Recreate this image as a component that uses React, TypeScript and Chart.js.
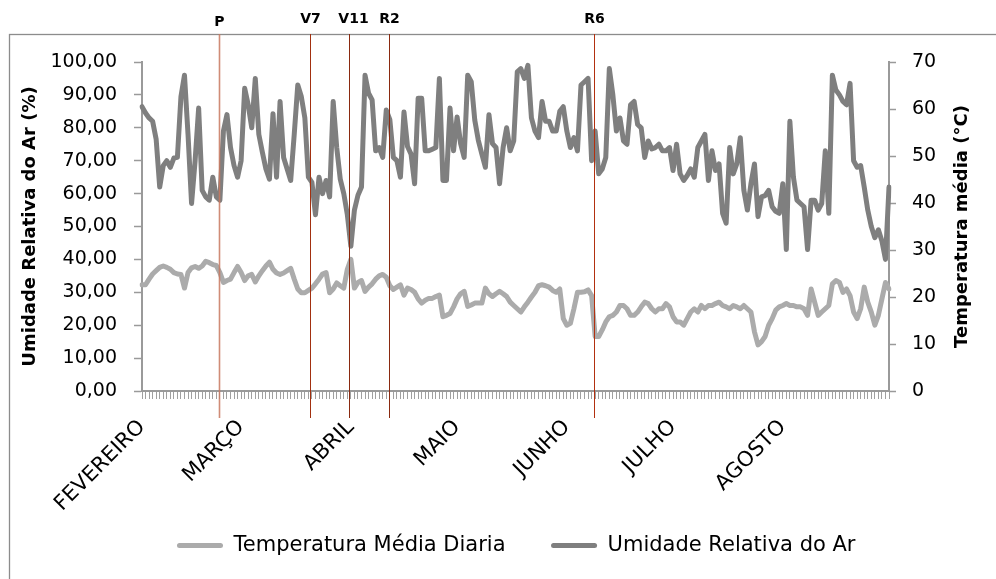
import { useEffect, useRef } from 'react';
import { Chart, registerables } from 'chart.js';

Chart.register(...registerables);

const monthNames = ['FEVEREIRO', 'MARÇO', 'ABRIL', 'MAIO', 'JUNHO', 'JULHO', 'AGOSTO'];
const monthLengths = [28, 31, 30, 31, 30, 31, 31];

const yLeftTicks = { min: 0, max: 100, step: 10 };
const yRightTicks = { min: 0, max: 70, step: 10 };

const seriesNames = ['Temperatura Média Diaria', 'Umidade Relativa do Ar'];
const leftTitle = 'Umidade Relativa do Ar (%)';
const rightTitle = 'Temperatura média (°C)';

// Umidade Relativa do Ar (%), daily, 1 Feb - 31 Aug
const humidity = [
  86.4, 84.5, 83, 82, 76.5, 62, 68.5, 70, 68, 70.8, 71, 89.5, 96, 78, 57, 70, 86, 61, 59, 58,
  65, 59, 58, 79, 84, 74, 68.5, 65, 70, 92, 87, 80, 95, 78, 72.6, 67.5, 64.4, 84.3, 65, 88,
  71, 67.5, 64, 78, 93, 89.5, 83, 65, 63.4, 53.6, 65, 60, 64, 59, 88, 74, 64.4, 60, 53.6, 44,
  55, 59.5, 62, 96, 90.5, 88.5, 73, 74, 71, 85.4, 82.5, 71, 70, 65, 84.8, 74.3, 72, 63, 89, 89,
  73, 73, 73.5, 74, 95, 64, 64, 86, 73, 83.3, 75.2, 71, 96, 94, 82.3, 76.2, 72, 68, 84, 75.2,
  74, 63, 74, 80, 73, 76, 97, 98, 95, 99, 83, 79, 77, 88, 82, 82, 79, 79, 85, 86.4,
  79, 74, 77, 73, 93, 94, 95, 70, 79, 66, 67.5, 71, 98, 90, 79, 83, 76, 75, 87, 88,
  81, 80, 71, 76, 73.6, 74, 75, 73, 73, 74, 67, 75, 66, 64, 65.5, 67.5, 65, 74, 76, 78,
  64, 73, 67, 69, 54, 51, 74, 66, 69, 77, 61, 55, 63, 69, 53, 59, 59.4, 61, 56, 54.6,
  54, 63, 43, 82, 65, 58, 57, 56, 43, 58, 58, 55, 57, 73, 54, 96, 91.5, 90, 88, 87,
  93.5, 70, 68, 68.5, 62, 55, 50, 46.6, 49, 45.6, 40, 62,
];

// Temperatura Média Diaria (°C), daily, 1 Feb - 31 Aug
const temperature = [
  22.6, 22.6, 23.8, 24.9, 25.6, 26.3, 26.6, 26.3, 25.9, 25.2, 24.9, 24.8, 21.9, 25.2, 26.2, 26.5, 26.1, 26.6, 27.6, 27.3,
  26.9, 26.7, 25.2, 23.1, 23.5, 23.8, 25.2, 26.5, 25.2, 23.5, 24.5, 24.8, 23.2, 24.5, 25.6, 26.6, 27.4, 25.9, 25.1, 24.8,
  25.1, 25.6, 26.1, 23.8, 21.7, 20.9, 20.9, 21.4, 21.9, 22.8, 23.8, 24.9, 25.2, 20.9, 21.7, 23.0, 22.4, 21.9, 25.9, 28.0,
  21.9, 23.1, 23.5, 21.2, 22.1, 22.8, 23.8, 24.5, 24.8, 24.2, 22.4, 21.6, 22.1, 22.6, 20.4, 21.9, 21.6, 21.0, 19.6, 18.7,
  19.3, 19.7, 19.7, 20.1, 20.4, 15.8, 16.1, 16.5, 17.9, 19.6, 20.7, 21.2, 18.0, 18.3, 18.7, 18.7, 18.7, 21.9, 20.7, 20.1,
  20.7, 21.2, 20.7, 20.1, 18.9, 18.2, 17.5, 16.8, 17.9, 18.9, 20.0, 21.0, 22.4, 22.6, 22.4, 22.1, 21.4, 21.0, 21.7, 15.4,
  14.0, 14.4, 17.5, 21.0, 21.0, 21.1, 21.5, 20.3, 11.6, 11.6, 13.0, 14.7, 15.8, 16.1, 16.8, 18.2, 18.2, 17.5, 16.1, 16.1,
  16.8, 17.9, 18.9, 18.6, 17.5, 16.8, 17.5, 17.5, 18.6, 17.9, 15.8, 14.7, 14.7, 14.0, 15.4, 16.8, 17.5, 16.8, 18.2, 17.5,
  18.2, 18.2, 18.6, 18.9, 18.2, 17.9, 17.5, 18.2, 17.9, 17.5, 18.2, 17.5, 16.8, 12.6, 9.8, 10.5, 11.6, 14.0, 15.4, 17.2,
  17.9, 18.2, 18.6, 18.2, 18.2, 17.9, 17.9, 17.5, 16.1, 21.7, 18.9, 16.1, 16.8, 17.5, 18.2, 22.8, 23.5, 23.1, 21.0, 21.7,
  20.3, 16.8, 15.4, 17.5, 22.1, 18.9, 16.8, 14.0, 16.1, 19.6, 23.1, 21.7,
];

// Phenological stage markers (day index since 1 Feb)
const markerLabels = ['P', 'V7', 'V11', 'R2', 'R6'];
const markerDays = [21.8, 47.5, 58.6, 69.9, 127.8];

const markerStyle = [
  { color: 'rgba(200,120,95,0.85)', width: 1.6, dx: 0, dy: 3 },
  { color: '#a2300f', width: 1, dx: 0, dy: 0 },
  { color: '#8a2a10', width: 1, dx: 4, dy: 0 },
  { color: '#8a2a10', width: 1, dx: 0, dy: 0 },
  { color: '#b2300f', width: 1, dx: 0, dy: 0 },
];

const FONT = 'DejaVu Sans';

function buildLabels(): string[] {
  const out: string[] = [];
  monthNames.forEach((m, i) => {
    for (let d = 0; d < monthLengths[i]; d++) out.push(d === 0 ? m : '');
  });
  return out;
}

function drawVerticalTitle(ctx: any, text: string, x: number, y: number) {
  ctx.save();
  ctx.translate(x, y);
  ctx.rotate(-Math.PI / 2);
  ctx.textAlign = 'center';
  ctx.textBaseline = 'middle';
  ctx.fillStyle = '#000';
  ctx.font = `bold 18px "${FONT}"`;
  ctx.fillText(text, 0, 0);
  ctx.restore();
}

const decorPlugin = {
  id: 'decor',
  beforeDraw(chart: any) {
    const ctx = chart.ctx;
    ctx.save();
    ctx.fillStyle = '#ffffff';
    ctx.fillRect(0, 0, chart.width, chart.height);
    ctx.strokeStyle = '#8c8c8c';
    ctx.lineWidth = 1.3;
    ctx.strokeRect(9.5, 34.5, chart.width + 20, chart.height + 20);
    ctx.restore();
  },
  afterDatasetsDraw(chart: any) {
    const ctx = chart.ctx;
    const xs = chart.scales.x;
    ctx.save();
    markerDays.forEach((d, i) => {
      const st = markerStyle[i];
      const x = Math.round(xs.getPixelForValue(d)) + 0.5;
      ctx.beginPath();
      ctx.strokeStyle = st.color;
      ctx.lineWidth = st.width;
      ctx.moveTo(x, 34);
      ctx.lineTo(x, 418);
      ctx.stroke();
      ctx.fillStyle = '#000';
      ctx.font = `bold 14px "${FONT}"`;
      ctx.textAlign = 'center';
      ctx.textBaseline = 'alphabetic';
      ctx.fillText(markerLabels[i], x + st.dx, 22.5 + st.dy);
    });
    ctx.restore();
  },
  afterDraw(chart: any) {
    const ctx = chart.ctx;
    const area = chart.chartArea;
    const cy = (area.top + area.bottom) / 2;
    drawVerticalTitle(ctx, leftTitle, 30, cy);
    drawVerticalTitle(ctx, rightTitle, chart.scales.y1.right - 34, cy);

    // month category labels, rotated 45°, anchored at each category position
    const xs = chart.scales.x;
    const labels: string[] = chart.data.labels;
    ctx.save();
    ctx.fillStyle = '#000';
    ctx.font = `21px "${FONT}"`;
    ctx.textAlign = 'right';
    ctx.textBaseline = 'middle';
    labels.forEach((lab, i) => {
      if (!lab) return;
      const x = xs.getPixelForValue(i);
      ctx.save();
      ctx.translate(x, xs.top + 33);
      ctx.rotate(-Math.PI / 4);
      ctx.fillText(lab, 0, 0);
      ctx.restore();
    });
    ctx.restore();
  },
};

export default function App() {
  const ref = useRef<HTMLCanvasElement>(null);

  useEffect(() => {
    if (!ref.current) return;
    const labels = buildLabels();
    const colors = ['#ababab', '#7f7f7f'];
    const chart = new Chart(ref.current, {
      type: 'line',
      data: {
        labels,
        datasets: [
          {
            label: seriesNames[0],
            data: temperature,
            yAxisID: 'y1',
            borderColor: colors[0],
            backgroundColor: colors[0],
            borderWidth: 5,
            pointRadius: 0,
            tension: 0,
            borderJoinStyle: 'round',
            borderCapStyle: 'round',
            order: 1,
          },
          {
            label: seriesNames[1],
            data: humidity,
            yAxisID: 'y',
            borderColor: colors[1],
            backgroundColor: colors[1],
            borderWidth: 5,
            pointRadius: 0,
            tension: 0,
            borderJoinStyle: 'round',
            borderCapStyle: 'round',
            order: 0,
          },
        ],
      },
      options: {
        responsive: false,
        animation: false,
        layout: { padding: { left: 36.5, right: 0, top: 62, bottom: 13 } },
        plugins: {
          tooltip: { enabled: false },
          legend: {
            position: 'bottom',
            labels: {
              boxWidth: 46,
              boxHeight: 5,
              padding: 45.5,
              color: '#000',
              font: { family: FONT, size: 21 },
              generateLabels: (c: any) =>
                c.data.datasets.map((ds: any, i: number) => ({
                  text: ds.label,
                  fillStyle: ds.borderColor,
                  strokeStyle: ds.borderColor,
                  lineWidth: 0,
                  hidden: false,
                  datasetIndex: i,
                  fontColor: '#000',
                  borderRadius: 2.5,
                })),
            },
          },
        },
        scales: {
          x: {
            type: 'category',
            offset: false,
            grid: {
              display: true,
              drawOnChartArea: false,
              drawTicks: true,
              tickLength: 8,
              tickColor: '#a0a0a0',
              tickWidth: 1,
              offset: false,
            },
            border: { display: true, color: '#9a9a9a', width: 2 },
            ticks: {
              display: false,
              autoSkip: false,
            },
            afterFit: (s: any) => {
              s.height = 98.5;
            },
          },
          y: {
            type: 'linear',
            position: 'left',
            min: yLeftTicks.min,
            max: yLeftTicks.max,
            ticks: {
              stepSize: yLeftTicks.step,
              padding: 17,
              color: '#000',
              font: { family: FONT, size: 19 },
              callback: (v: any) => Number(v).toFixed(2).replace('.', ','),
            },
            grid: { drawOnChartArea: false, tickLength: 8, tickColor: '#9a9a9a', tickWidth: 1.5 },
            border: { display: true, color: '#9a9a9a', width: 2 },
            afterFit: (s: any) => {
              s.width = 142 - 36.5;
            },
          },
          y1: {
            type: 'linear',
            position: 'right',
            min: yRightTicks.min,
            max: yRightTicks.max,
            ticks: {
              stepSize: yRightTicks.step,
              padding: 16,
              color: '#000',
              font: { family: FONT, size: 19 },
            },
            grid: { drawOnChartArea: false, tickLength: 7, tickColor: '#9a9a9a', tickWidth: 1.5 },
            border: { display: true, color: '#9a9a9a', width: 2 },
            afterFit: (s: any) => {
              s.width = 107;
            },
          },
        },
      },
      plugins: [decorPlugin],
    } as any);
    return () => chart.destroy();
  }, []);

  return (
    <div style={{ position: 'absolute', left: 0, top: 0, width: 996, height: 579, background: '#fff' }}>
      <canvas ref={ref} width={996} height={579} style={{ display: 'block' }} />
    </div>
  );
}
